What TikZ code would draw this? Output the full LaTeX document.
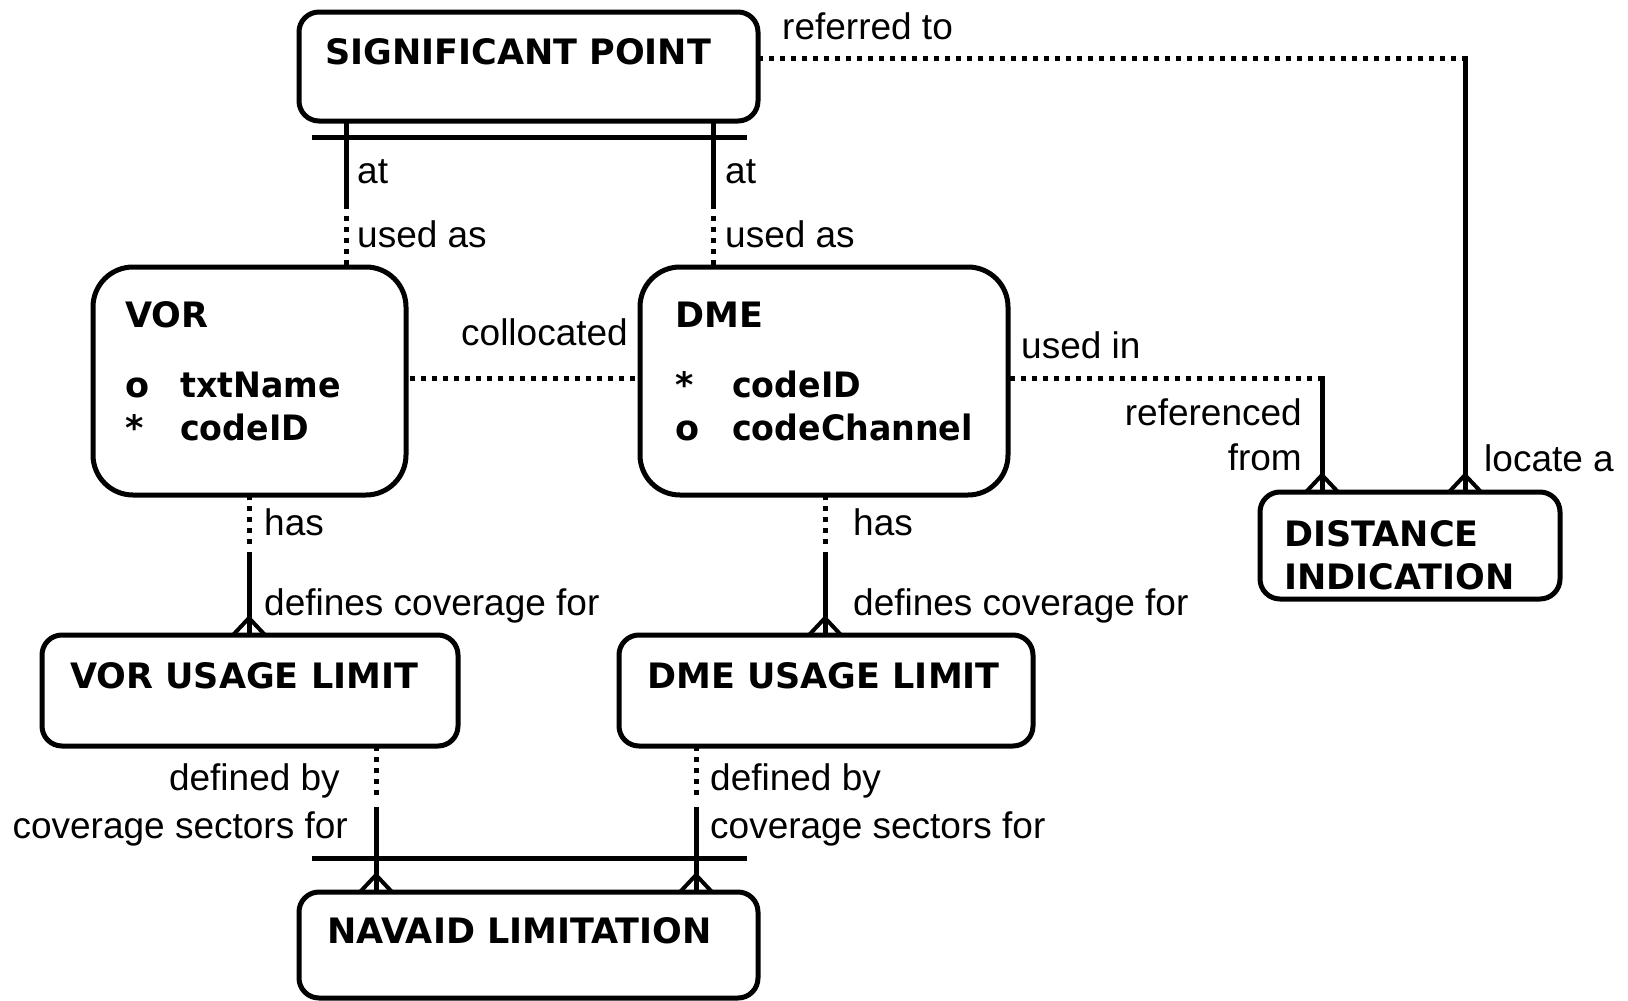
\documentclass[tikz,border=0pt]{standalone}
\usepackage{fontspec}
\setmainfont{Liberation Sans}
\newfontfamily\entfont{DejaVu Sans}
\newfontfamily\attrfont[FakeStretch=0.95]{DejaVu Sans}
\usetikzlibrary{calc}

% crow's foot ("many") marker whose tips sit on the given border point
\newcommand\crowfoot[1]{%
  \draw[foot] ([xshift=-16pt]#1) -- ([yshift=17pt]#1) -- ([xshift=16pt]#1);%
  \draw[rel] ([yshift=17pt]#1) -- (#1);}

\begin{document}
\begin{tikzpicture}[x=1pt,y=-1pt,
  entity/.style={draw, line width=5pt, rectangle, inner sep=0pt, outer sep=0pt,
    anchor=north west, rounded corners=20pt},
  etext/.style={inner sep=0pt, anchor=base west,
    font=\entfont\bfseries\fontsize{35}{42}\selectfont},
  atext/.style={inner sep=0pt, anchor=base west,
    font=\attrfont\bfseries\fontsize{35}{42}\selectfont},
  rtext/.style={inner sep=0pt, anchor=base west, font=\fontsize{37}{44}\selectfont},
  rtextr/.style={rtext, anchor=base east},
  rel/.style={line width=5pt},
  reldot/.style={line width=5pt, dash pattern=on 5pt off 6pt},
  foot/.style={line width=4pt, line join=miter},
]
\useasboundingbox (0,0) rectangle (1628,1001);

% entities
\node[entity, minimum width=459pt, minimum height=109pt] (sp) at (299,12) {};
\node[entity, rounded corners=40pt, minimum width=313pt, minimum height=228pt] (vor) at (93,267) {};
\node[entity, rounded corners=40pt, minimum width=368pt, minimum height=228pt] (dme) at (640,267) {};
\node[entity, minimum width=416pt, minimum height=111pt] (vul) at (42,635) {};
\node[entity, minimum width=414pt, minimum height=111pt] (dul) at (619,635) {};
\node[entity, minimum width=459pt, minimum height=106pt] (nl) at (299,892) {};
\node[entity, minimum width=300pt, minimum height=107pt] (di) at (1260,492) {};

% entity titles and attributes
\node[etext] (tsp) at (325,64) {SIGNIFICANT POINT};
\node[etext] (tvor) at (125,327) {VOR};
\node[etext] (vo1) at (125,397) {o};
\node[atext] (va1) at (180,397) {txtName};
\node[etext] (vo2) at (125,440) {*};
\node[atext] (va2) at (180,440) {codeID};
\node[etext] (tdme) at (675,327) {DME};
\node[etext] (do1) at (675,397) {*};
\node[atext] (da1) at (732,397) {codeID};
\node[etext] (do2) at (675,440) {o};
\node[atext] (da2) at (732,440) {codeChannel};
\node[etext] (tvul) at (70,688) {VOR USAGE LIMIT};
\node[etext] (tdul) at (647,688) {DME USAGE LIMIT};
\node[etext] (tnl) at (327,943) {NAVAID LIMITATION};
\node[etext] (tdi1) at (1284,546) {DISTANCE};
\node[etext] (tdi2) at (1284,589) {INDICATION};

% relationship phrases
\node[rtext] (lref) at (782,39) {referred to};
\node[rtext] (lat1) at (357,183) {at};
\node[rtext] (lus1) at (357,247) {used as};
\node[rtext] (lat2) at (725,183) {at};
\node[rtext] (lus2) at (725,247) {used as};
\node[rtext] (lcol) at (461,345) {collocated};
\node[rtext] (luin) at (1021,358) {used in};
\node[rtextr] (lrf1) at (1302,425) {referenced};
\node[rtextr] (lrf2) at (1302,470) {from};
\node[rtext] (lloc) at (1484,471) {locate a};
\node[rtext] (lhas1) at (264,535) {has};
\node[rtext] (ldef1) at (264,615) {defines coverage for};
\node[rtext] (lhas2) at (853,535) {has};
\node[rtext] (ldef2) at (853,615) {defines coverage for};
\node[rtextr] (ldb1) at (340,790) {defined by};
\node[rtextr] (lcs1) at (348,838) {coverage sectors for};
\node[rtext] (ldb2) at (710,790) {defined by};
\node[rtext] (lcs2) at (710,838) {coverage sectors for};

% connector guides
\coordinate (xa) at (346,0);
\coordinate (xb) at (713,0);
\coordinate (xc) at (1465,58);
\coordinate (xd) at (1322,378);
\coordinate (xe) at (249,0);
\coordinate (xf) at (825,0);
\coordinate (xg) at (376,0);
\coordinate (xh) at (696,0);
\coordinate (ycol) at (0,378);

% SIGNIFICANT POINT -- VOR / DME
\coordinate (a1) at (sp.south -| xa);
\coordinate (a2) at (vor.north -| xa);
\draw[rel] (a1) -- ($(a1)!0.6!(a2)$);
\draw[reldot] ($(a1)!0.65!(a2)$) -- (a2);
\coordinate (b1) at (sp.south -| xb);
\coordinate (b2) at (dme.north -| xb);
\draw[rel] (b1) -- ($(b1)!0.6!(b2)$);
\draw[reldot] ($(b1)!0.65!(b2)$) -- (b2);
\draw[rel] ($(sp.south west)+(13,16)$) -- ($(sp.south east)+(-11,16)$);

% SIGNIFICANT POINT -- DISTANCE INDICATION
\draw[reldot] (sp.east |- xc) -- (xc);
\draw[rel] ([yshift=2.5pt]xc) -- (di.north -| xc);
\crowfoot{di.north -| xc}

% VOR -- DME
\draw[reldot] ([xshift=4pt]vor.east |- ycol) -- (dme.west |- ycol);

% DME -- DISTANCE INDICATION
\draw[reldot] ([xshift=2pt]dme.east |- xd) -- (xd);
\draw[rel] ([yshift=2.5pt]xd) -- (di.north -| xd);
\crowfoot{di.north -| xd}

% VOR -- VOR USAGE LIMIT, DME -- DME USAGE LIMIT
\coordinate (e1) at (vor.south -| xe);
\coordinate (e2) at (vul.north -| xe);
\draw[reldot] (e1) -- ($(e1)!0.36!(e2)$);
\draw[rel] ($(e1)!0.41!(e2)$) -- (e2);
\crowfoot{e2}
\coordinate (f1) at (dme.south -| xf);
\coordinate (f2) at (dul.north -| xf);
\draw[reldot] (f1) -- ($(f1)!0.36!(f2)$);
\draw[rel] ($(f1)!0.41!(f2)$) -- (f2);
\crowfoot{f2}

% usage limits -- NAVAID LIMITATION
\coordinate (g1) at (vul.south -| xg);
\coordinate (g2) at (nl.north -| xg);
\draw[reldot] (g1) -- ($(g1)!0.37!(g2)$);
\draw[rel] ($(g1)!0.42!(g2)$) -- (g2);
\crowfoot{g2}
\coordinate (h1) at (dul.south -| xh);
\coordinate (h2) at (nl.north -| xh);
\draw[reldot] (h1) -- ($(h1)!0.37!(h2)$);
\draw[rel] ($(h1)!0.42!(h2)$) -- (h2);
\crowfoot{h2}
\draw[rel] ($(nl.north west)+(13,-34)$) -- ($(nl.north east)+(-11,-34)$);
\end{tikzpicture}
\end{document}
